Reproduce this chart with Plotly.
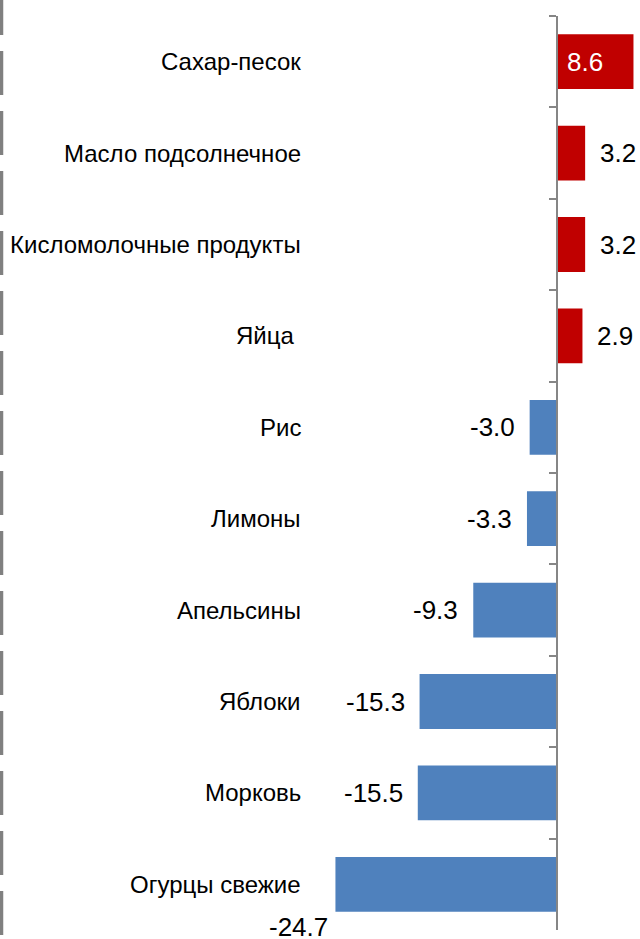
import plotly.graph_objects as go

categories = ["Сахар-песок", "Масло подсолнечное", "Кисломолочные продукты", "Яйца ",
              "Рис", "Лимоны", "Апельсины", "Яблоки", "Морковь", "Огурцы свежие"]
values = [8.6, 3.2, 3.2, 2.9, -3.0, -3.3, -9.3, -15.3, -15.5, -24.7]
value_labels = ["8.6", "3.2", "3.2", "2.9", "-3.0", "-3.3", "-9.3", "-15.3", "-15.5", "-24.7"]

RED = "#C00000"
BLUE = "#4F81BD"
FONT = "Liberation Sans, Arial, sans-serif"

W, H = 640, 939
MT, MB = 16, 9
PH = H - MT - MB
zero_px = 556.5
px_per_unit = 8.95
x_min = -zero_px / px_per_unit
x_max = (W - zero_px) / px_per_unit

colors = [RED if v > 0 else BLUE for v in values]

fig = go.Figure(go.Bar(
    y=categories, x=values, orientation="h",
    marker=dict(color=colors, line=dict(width=0)),
    width=0.6, hoverinfo="skip",
))

annotations = []
label_x = (303 - zero_px) / px_per_unit
for c, v, t in zip(categories, values, value_labels):
    annotations.append(dict(
        x=label_x, y=c, xref="x", yref="y",
        text=c.rstrip() + "\u00a0" if c.endswith(" ") else c,
        showarrow=False, xanchor="right", yanchor="middle",
        font=dict(family=FONT, size=24, color="black"),
    ))
    if v == max(values):
        annotations.append(dict(x=0, y=c, xref="x", yref="y", text=t, showarrow=False,
                                xanchor="left", yanchor="middle", xshift=8,
                                font=dict(family=FONT, size=26, color="white")))
    elif v == min(values):
        annotations.append(dict(x=v, y=c, xref="x", yref="y", text=t, showarrow=False,
                                xanchor="right", yanchor="middle", xshift=-5, yshift=-43,
                                font=dict(family=FONT, size=26, color="black")))
    elif v > 0:
        annotations.append(dict(x=v, y=c, xref="x", yref="y", text=t, showarrow=False,
                                xanchor="left", yanchor="middle", xshift=13,
                                font=dict(family=FONT, size=26, color="black")))
    else:
        annotations.append(dict(x=v, y=c, xref="x", yref="y", text=t, showarrow=False,
                                xanchor="right", yanchor="middle", xshift=-13,
                                font=dict(family=FONT, size=26, color="black")))


def py(p):
    return (H - MB - p) / PH


fig.update_layout(
    width=W, height=H,
    margin=dict(l=0, r=0, t=MT, b=MB),
    paper_bgcolor="white", plot_bgcolor="white",
    showlegend=False,
    xaxis=dict(range=[x_min, x_max], visible=False, showgrid=False, zeroline=False,
               domain=[0, 1]),
    yaxis=dict(type="category", autorange="reversed", anchor="free",
               position=zero_px / W, showline=True, linecolor="#868686", linewidth=1.5,
               ticks="outside", ticklen=7, tickcolor="#868686", tickwidth=1.5,
               tickson="boundaries", showticklabels=False, showgrid=False, zeroline=False),
    annotations=annotations,
    shapes=[dict(type="line", xref="paper", yref="paper", x0=1.5 / W, x1=1.5 / W,
                 y0=py(-9), y1=py(H), line=dict(color="#808080", width=3.5, dash="44px,16px"))],
)

fig.write_html("out.html", config={"displayModeBar": False},
               post_script="document.body.style.margin='0';document.body.style.overflow='hidden';")
